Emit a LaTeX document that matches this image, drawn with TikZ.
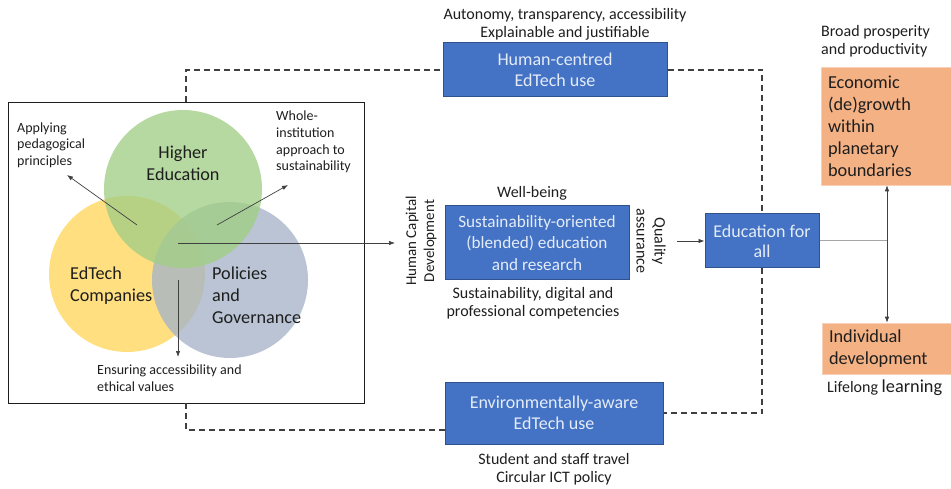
\documentclass[tikz,border=0pt]{standalone}
\usepackage{fontspec}
\setmainfont{Carlito}
\usetikzlibrary{arrows.meta,calc}
\definecolor{boxblue}{HTML}{4472C4}
\definecolor{boxedge}{HTML}{2F528F}
\definecolor{boxtext}{HTML}{E4ECF8}
\definecolor{salmon}{HTML}{F4B183}
\definecolor{vgreen}{HTML}{A2CE86}
\definecolor{vyellow}{HTML}{FFD65C}
\definecolor{vblue}{HTML}{A6B4C8}
\definecolor{ink}{HTML}{1E1E1E}
\definecolor{lineg}{HTML}{404040}
\definecolor{lightg}{HTML}{A6A6A6}
\begin{document}
\begin{tikzpicture}[x=1pt,y=-1pt,
  bluebox/.style={draw=boxedge, line width=1pt, fill=boxblue, text=boxtext, align=center, inner sep=0pt, font=\fontsize{18}{21}\selectfont},
  orangebox/.style={draw=salmon!60!white, line width=0.6pt, fill=salmon, text=ink, align=left, inner xsep=7pt, inner ysep=0pt, font=\fontsize{18.3}{22}\selectfont},
  note/.style={text=ink, align=center, inner sep=0pt, font=\fontsize{16}{18}\selectfont},
  vnote/.style={text=ink, align=left, inner sep=0pt, font=\fontsize{14}{16.7}\selectfont},
  vlabel/.style={text=ink, align=left, inner sep=0pt, font=\fontsize{18.2}{22}\selectfont},
  vcircle/.style={circle, inner sep=0pt, minimum size=#1, fill opacity=0.78},
  dashline/.style={draw=lineg, line width=1.3pt, dash pattern=on 6pt off 4pt},
  arr/.style={draw=lineg, line width=0.7pt, -{Latex[length=6pt,width=4.5pt]}},
]
\useasboundingbox (0,0) rectangle (951,489);

% Venn box
\node[draw=ink, line width=0.9pt, minimum width=356pt, minimum height=301pt, inner sep=0pt] (vbox) at (186,252.5) {};

% circles
\node[vcircle=156pt, fill=vyellow] (cy) at (127,274) {};
\node[vcircle=156pt, fill=vblue] (cb) at (230,280) {};
\node[vcircle=158pt, fill=vgreen] (cg) at (183,189) {};

\node[vlabel, align=center, anchor=center] (lhe) at (183,163) {Higher\\Education};
\node[vlabel, anchor=west] (led) at (70,286) {EdTech\\Companies};
\node[vlabel, anchor=west] (lpg) at (212,295) {Policies\\and\\Governance};

\node[vnote, anchor=west] (napp) at (17,145) {Applying\\pedagogical\\principles};
\node[vnote, anchor=west] (nwho) at (276,142) {Whole-\\institution\\approach to\\sustainability};
\node[vnote, anchor=west] (nens) at (97,378.5) {Ensuring accessibility and\\ethical values};

\coordinate (pa) at (137,225);
\coordinate (pat) at (67,175);
\coordinate (pw) at (217,225);
\coordinate (pwt) at (288,185);
\coordinate (pe) at (178,280);
\coordinate (pet) at (178,357);
\coordinate (pc) at (178,243);
\coordinate (pct) at (395,243);
\draw[arr] (pa) -- (pat);
\draw[arr] (pw) -- (pwt);
\draw[arr] (pe) -- (pet);
\draw[arr] (pc) -- (pct);

% blue boxes
\node[bluebox, minimum width=224pt, minimum height=54pt] (hum) at (555,70) {Human-centred\\EdTech use};
\node[bluebox, minimum width=184pt, minimum height=74pt, font=\fontsize{17.2}{21.5}\selectfont] (sus) at (537,243) {Sustainability-oriented\\(blended) education\\and research};
\node[bluebox, minimum width=218pt, minimum height=62pt] (env) at (554,413) {Environmentally-aware\\EdTech use};
\node[bluebox, minimum width=114pt, minimum height=54pt, font=\fontsize{18}{20}\selectfont] (edu) at (762,241) {Education for\\all};

% orange boxes
\node[orangebox, text width=116pt, minimum height=118pt] (eco) at (886,126) {Economic\\(de)growth\\within\\planetary\\boundaries};
\node[orangebox, text width=115pt, minimum height=51pt] (ind) at (886.5,348.5) {Individual\\development};

% notes
\node[note] (nauto) at (565,24) {Autonomy, transparency, accessibility\\Explainable and justifiable};
\node[note] (nwell) at (532,193) {Well-being};
\node[note] (ncomp) at (533,303.5) {Sustainability, digital and\\professional competencies};
\node[note, rotate=90, font=\fontsize{15}{18}\selectfont] (nhcd) at (421,241) {Human Capital\\Development};
\node[note, rotate=-90] (nqa) at (651,241) {Quality\\assurance};
\node[note, align=left, anchor=west] (nbro) at (821,41.5) {Broad prosperity\\and productivity};
\node[note, anchor=west] (nlif) at (827,388) {Lifelong {\fontsize{18.3}{18}\selectfont learning}};
\node[note] (nstu) at (554,469) {Student and staff travel\\Circular ICT policy};

% dashed connectors
\draw[dashline] (vbox.north) |- (hum.west);
\draw[dashline] (hum.east) -| (edu.north);
\draw[dashline] (vbox.south) |- ([yshift=-17pt]env.west);
\draw[dashline] (edu.south) |- (env.east);

% right-hand connectors
\coordinate (qs) at (677,241);
\draw[arr] (qs) -- (edu.west);
\coordinate (jn) at (887,241);
\draw[draw=lightg, line width=1pt] (edu.east) -- (jn);
\draw[arr] (jn) -- (jn |- eco.south);
\draw[arr] (jn) -- (jn |- ind.north);
\end{tikzpicture}
\end{document}
